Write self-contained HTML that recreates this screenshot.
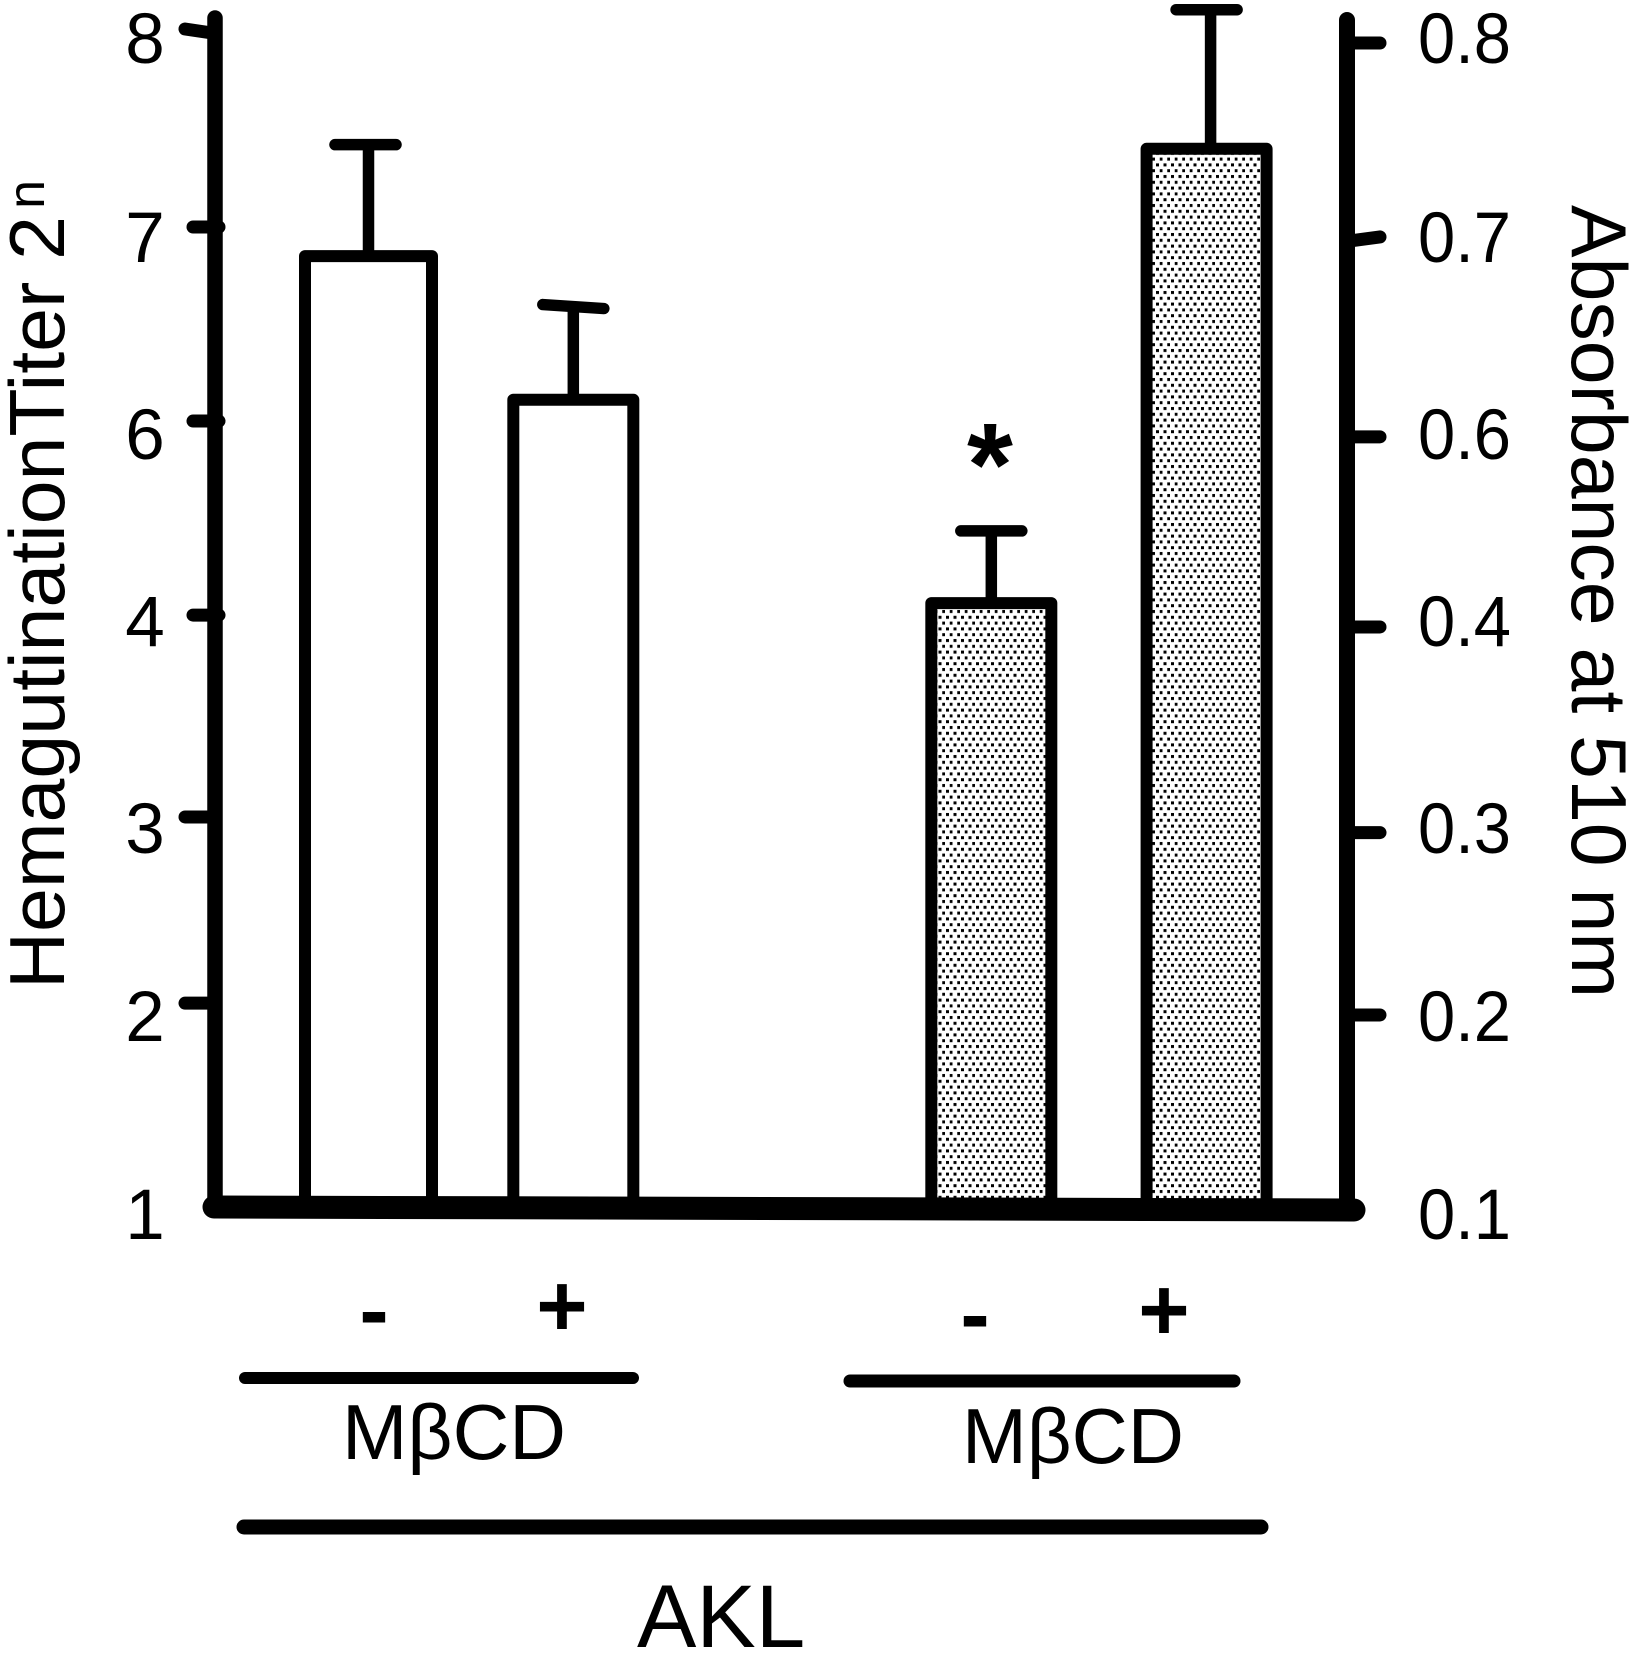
<!DOCTYPE html>
<html lang="en">
<head>
<meta charset="utf-8">
<title>Hemagglutination titer and absorbance bar chart</title>
<style>
html,body{margin:0;padding:0;background:#fff;}
svg{display:block;}
text{font-family:"Liberation Sans",Arial,sans-serif;fill:#000;}
</style>
</head>
<body>
<svg id="chart" xmlns="http://www.w3.org/2000/svg" width="1633" height="1655" viewBox="0 0 1633 1655">
  <defs>
    <pattern id="dots" patternUnits="userSpaceOnUse" x="0" y="0" width="7.5" height="11.6">
      <rect x="0" y="0" width="7.5" height="11.6" fill="#fff"/>
      <rect x="1" y="1" width="3" height="3" fill="#000"/>
      <rect x="4.75" y="6.8" width="3" height="3" fill="#000"/>
    </pattern>
  </defs>
  <rect x="0" y="0" width="1633" height="1655" fill="#fff"/>
  <g id="marks"></g>

  <text transform="translate(64,989) rotate(-90)" font-size="78" textLength="773" lengthAdjust="spacingAndGlyphs">HemagutinationTiter 2</text>
  <text transform="translate(44,180) rotate(-90)" font-size="52" text-anchor="end">n</text>
  <text transform="translate(1572,205) rotate(90)" font-size="78" textLength="793" lengthAdjust="spacingAndGlyphs">Absorbance at 510 nm</text>

  <text x="990" y="505" font-size="118" font-weight="bold" text-anchor="middle">*</text>

  <text x="374" y="1340" font-size="88" font-weight="bold" text-anchor="middle">-</text>
  <text x="562" y="1336" font-size="88" font-weight="bold" text-anchor="middle">+</text>
  <text x="975" y="1344" font-size="88" font-weight="bold" text-anchor="middle">-</text>
  <text x="1164" y="1340" font-size="88" font-weight="bold" text-anchor="middle">+</text>

  <line x1="245" y1="1378" x2="633" y2="1378" stroke="#000" stroke-width="12" stroke-linecap="round"/>
  <line x1="850" y1="1381" x2="1234" y2="1381" stroke="#000" stroke-width="13" stroke-linecap="round"/>
  <line x1="244" y1="1527" x2="1261" y2="1527" stroke="#000" stroke-width="15" stroke-linecap="round"/>

  <text x="342" y="1459" font-size="78" textLength="224" lengthAdjust="spacingAndGlyphs">MβCD</text>
  <text x="962" y="1463" font-size="78" textLength="222" lengthAdjust="spacingAndGlyphs">MβCD</text>
  <text x="637" y="1647" font-size="89">AKL</text>
</svg>

<script>
// Chart data
const categories = ['MβCD − (titer)', 'MβCD + (titer)', 'MβCD − (absorbance)', 'MβCD + (absorbance)'];
const titerValues = [6.85, 6.11];
const titerErrorTops = [7.42, 6.59];
const absorbanceValues = [0.425, 0.746];
const absorbanceErrorTops = [0.501, 0.817];

// Axis ticks: the axes skip 5 / 0.5, and ticks sit at hand-drawn axis steps
const leftTickValues = [8, 7, 6, 4, 3, 2, 1];
const leftTickLabels = ['8', '7', '6', '4', '3', '2', '1'];
const leftTickSteps = [6.0, 5.0, 4.01, 3.02, 1.99, 1.04, 0];
const rightTickValues = [0.8, 0.7, 0.6, 0.4, 0.3, 0.2, 0.1];
const rightTickLabels = ['0.8', '0.7', '0.6', '0.4', '0.3', '0.2', '0.1'];
const rightTickSteps = [6.0, 4.99, 3.97, 2.99, 1.93, 0.99, 0];
const labelRowSteps = [6.0, 4.985, 3.98, 3.025, 1.97, 1.01, 0];
const categorySteps = [0, 0.98, 2.98, 4.01];

const SVGNS = 'http://www.w3.org/2000/svg';
const marks = document.getElementById('marks');

function stepOf(values, steps, v) {
  let i = 0;
  while (i < values.length - 2 && v < values[i + 1]) i++;
  const t = (values[i] - v) / (values[i] - values[i + 1]);
  return steps[i] + t * (steps[i + 1] - steps[i]);
}
function yLeft(v) {
  return 1207 - 196 * stepOf(leftTickValues, leftTickSteps, v);
}
function yRight(v) {
  return 1207 - 194 * stepOf(rightTickValues, rightTickSteps, v);
}
function xBar(i) {
  return 368.5 + 209 * categorySteps[i];
}
function labelY(i) {
  return 1239 - 196 * labelRowSteps[i];
}
function make(tag, attrs, parent) {
  const el = document.createElementNS(SVGNS, tag);
  for (const k in attrs) el.setAttribute(k, attrs[k]);
  (parent || marks).appendChild(el);
  return el;
}
function ink(w) {
  return { stroke: '#000', 'stroke-width': w, 'stroke-linecap': 'round', 'stroke-linejoin': 'round' };
}

// Bars and error bars
function drawBar(i, value, errTop, yFn, fill) {
  const cx = xBar(i);
  const w = i === 0 ? 127 : 120;
  const top = yFn(value);
  const errY = yFn(errTop);
  const stemX = cx + (i === 3 ? 4 : 0);
  const capX = cx + (i === 0 ? -3 : 0);
  const slant = i === 1 ? 2 : 0;

  const stem = make('line', Object.assign({ x1: stemX, y1: errY, x2: stemX, y2: top, 'stroke': '#000', 'stroke-width': 11.5 }));
  
  

  const cap = make('line', Object.assign({ x1: capX - 30.5, y1: errY - slant, x2: capX + 30.5, y2: errY + slant }, ink(11.5)));
  
  

  const bar = make('rect', Object.assign({ x: cx - w / 2, y: top, width: w, height: 1207 - top, fill: fill }, ink(12)));
  
  
  const tip = make('title', {}, bar);
  tip.textContent = categories[i];
}
titerValues.forEach(function (v, k) {
  drawBar(k, v, titerErrorTops[k], yLeft, '#fff');
});
absorbanceValues.forEach(function (v, k) {
  drawBar(k + 2, v, absorbanceErrorTops[k], yRight, 'url(#dots)');
});

// Left axis
const leftAxis = make('line', Object.assign({ x1: 215, y1: 18, x2: 215, y2: 1207 }, ink(15.5)));


leftTickValues.slice(0, 6).forEach(function (v, i) {
  const y = yLeft(v);
  const mid = i >= 1 && i <= 3;
  const dy = i === 0 ? 2 : 0;
  const tick = make('line', Object.assign({ x1: mid ? 193 : 185, y1: y - dy, x2: mid ? 219 : 212, y2: y + dy }, ink(13)));
  
  
});
leftTickLabels.forEach(function (s, i) {
  const t = make('text', { x: 145, y: labelY(i), 'font-size': 71, 'text-anchor': 'middle' });
  
  
  t.textContent = s;
});

// Right axis
const rightAxis = make('line', Object.assign({ x1: 1347, y1: 20, x2: 1347, y2: 1208 }, ink(16)));


rightTickValues.slice(0, 6).forEach(function (v, i) {
  const y = yRight(v);
  const dy = i === 1 ? 2 : 0;
  const tick = make('line', Object.assign({ x1: 1350, y1: y + dy, x2: 1380, y2: y - dy }, ink(13)));
  
  
});
rightTickLabels.forEach(function (s, i) {
  const t = make('text', { x: 1418, y: labelY(i), 'font-size': 71, textLength: 93, lengthAdjust: 'spacingAndGlyphs' });
  
  
  t.textContent = s;
});

// Baseline
const baseline = make('line', Object.assign({ x1: 214, y1: 1207, x2: 1354, y2: 1210 }, ink(23)));


</script>
</body>
</html>
